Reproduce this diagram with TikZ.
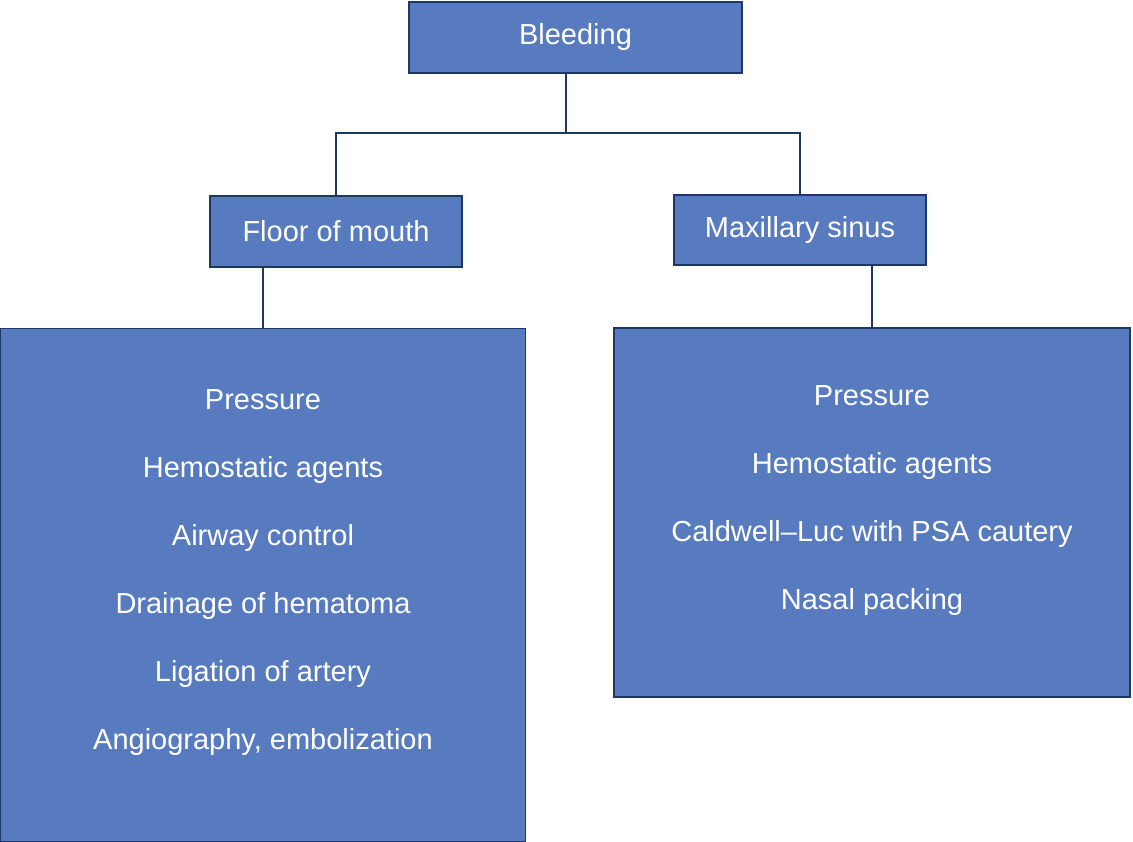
\documentclass[tikz,border=0pt]{standalone}
\usepackage{fontspec}
\setmainfont{Liberation Sans}
\begin{document}
\definecolor{boxfill}{RGB}{87,123,190}
\definecolor{edge}{RGB}{30,55,100}
\begin{tikzpicture}[x=1pt,y=-1pt,
  box/.style={draw=edge,line width=1.2pt,fill=boxfill,inner sep=0pt,text=white,font=\fontsize{29}{34}\selectfont},
  txt/.style={text=white,align=center,font=\fontsize{29}{68}\selectfont},
  conn/.style={draw=edge,line width=1.5pt}]
\useasboundingbox (0,0) rectangle (1133,842);
\node[box,minimum width=333,minimum height=71] (bl) at (575.5,37.5) {Bleeding};
\node[box,minimum width=252,minimum height=71] (fm) at (336,231.5) {Floor of mouth};
\node[box,minimum width=252,minimum height=70] (ms) at (800,230) {Maxillary sinus};
\node[box,minimum width=525,minimum height=513] (lb) at (263,585) {};
\node[box,minimum width=516,minimum height=369] (rb) at (872,512.5) {};
\node[txt] (lt) at (263,573) {Pressure\\Hemostatic agents\\Airway control\\Drainage of hematoma\\Ligation of artery\\Angiography, embolization};
\node[txt] (rt) at (872,501) {Pressure\\Hemostatic agents\\Caldwell–Luc with PSA cautery\\Nasal packing};
\coordinate (j) at (566,133);
\draw[conn] (bl.south -| j) -- (j);
\draw[conn] (fm.north) |- (j) -| (ms.north);
\draw[conn] (fm.south -| lb.north) -- (lb.north);
\draw[conn] (ms.south -| rb.north) -- (rb.north);
\end{tikzpicture}
\end{document}
